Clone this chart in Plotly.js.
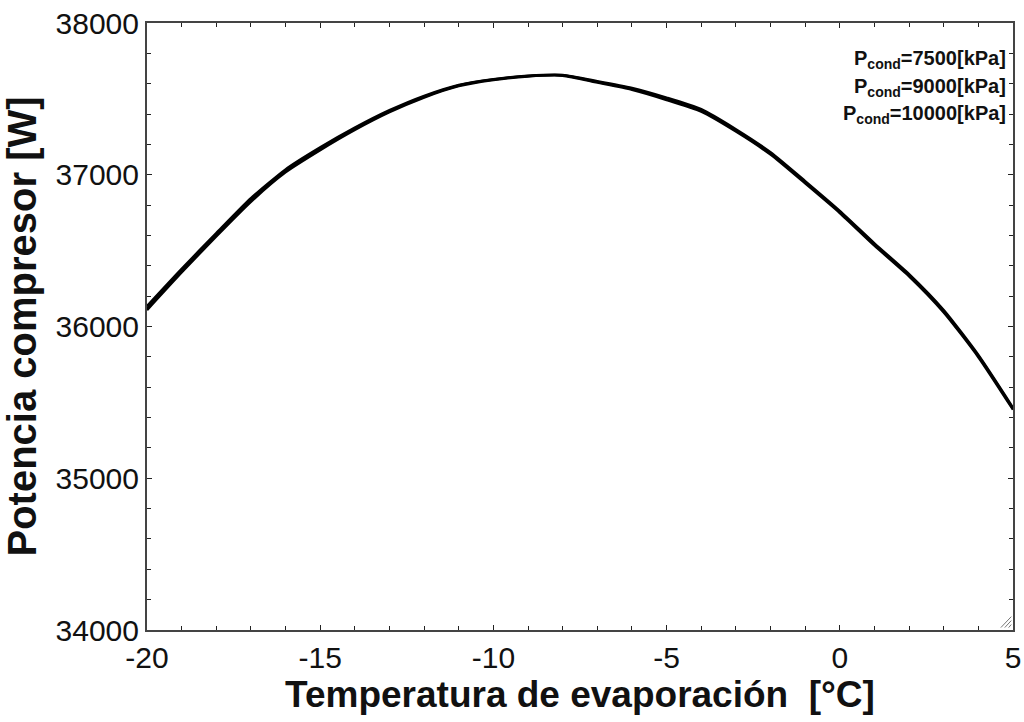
<!DOCTYPE html>
<html>
<head>
<meta charset="utf-8">
<script src="https://cdn.plot.ly/plotly-3.0.1.min.js"></script>
<style>
  html, body { margin: 0; padding: 0; background: #ffffff; }
  #chart { width: 1024px; height: 722px; }
</style>
</head>
<body>
<div id="chart"></div>
<script>
// Evaporation temperature [°C]
const tEvap = [-20, -19, -18, -17, -16, -15, -14, -13, -12, -11, -10, -9, -8,
               -7, -6, -5, -4, -3, -2, -1, 0, 1, 2, 3, 4, 5];

// Compressor power [W] for each condenser pressure
const power7500 = [36135, 36380, 36615, 36845, 37035, 37180, 37310, 37425, 37520, 37592, 37630, 37652, 37657,
                   37617, 37572, 37508, 37432, 37300, 37148, 36958, 36762, 36548, 36345, 36108, 35812, 35465];
const power9000 = [36120, 36368, 36605, 36832, 37025, 37170, 37302, 37418, 37514, 37588, 37627, 37650, 37655,
                   37612, 37566, 37500, 37424, 37292, 37140, 36950, 36755, 36540, 36338, 36100, 35805, 35458];
const power10000 = [36108, 36356, 36594, 36822, 37016, 37162, 37295, 37412, 37509, 37584, 37624, 37648, 37653,
                    37607, 37560, 37493, 37416, 37285, 37133, 36943, 36748, 36533, 36331, 36093, 35798, 35452];

const seriesNames = ['P<sub>cond</sub>=7500[kPa]', 'P<sub>cond</sub>=9000[kPa]', 'P<sub>cond</sub>=10000[kPa]'];
const seriesValues = [power7500, power9000, power10000];

const FONT = 'Arial, "Liberation Sans", sans-serif';

const traces = seriesValues.map((vals, i) => ({
  x: tEvap,
  y: vals,
  type: 'scatter',
  mode: 'lines',
  name: seriesNames[i],
  line: { color: '#000000', width: 2.5, shape: 'spline', smoothing: 0.6 },
  showlegend: false
}));

// Legend entries as plain text at the upper right corner of the plot
const legendNotes = seriesNames.map((name, i) => ({
  xref: 'paper', yref: 'paper',
  x: 0.994, y: 0.94 - i * 0.0455,
  xanchor: 'right', yanchor: 'middle',
  text: '<b>' + name + '</b>',
  showarrow: false,
  font: { family: FONT, size: 20, color: '#111111' }
}));

// Small resize grip drawn in the lower right corner of the frame
const grip = [0, 1, 2].map(k => ({
  type: 'line', xref: 'paper', yref: 'paper',
  x0: 0.986 + k * 0.0045, y0: 0.004,
  x1: 0.998, y1: 0.022 - k * 0.0065,
  line: { color: '#777777', width: 1 }
}));

const axisCommon = {
  showgrid: false,
  zeroline: false,
  showline: true,
  mirror: 'ticks',
  linecolor: '#444444',
  linewidth: 2,
  ticks: 'inside',
  ticklen: 5,
  tickwidth: 1,
  tickcolor: '#222222',
  tickfont: { family: FONT, size: 30, color: '#111111' },
  minor: { ticks: 'inside', ticklen: 4, tickwidth: 1, tickcolor: '#222222' }
};

const layout = {
  width: 1024,
  height: 722,
  paper_bgcolor: '#ffffff',
  plot_bgcolor: '#ffffff',
  margin: { l: 147, r: 11, t: 23, b: 92 },
  font: { family: FONT, color: '#111111' },
  xaxis: Object.assign({}, axisCommon, {
    range: [-20, 5],
    tickmode: 'array',
    tickvals: [-20, -15, -10, -5, 0, 5],
    ticktext: ['-20', '-15', '-10', '-5', '0', '5'],
    minor: Object.assign({}, axisCommon.minor, { dtick: 1, tick0: -20 }),
    title: {
      text: '<b>Temperatura de evaporación  [°C]</b>',
      font: { family: FONT, size: 37, color: '#111111' },
      standoff: 6
    }
  }),
  yaxis: Object.assign({}, axisCommon, {
    range: [34000, 38000],
    tickmode: 'array',
    tickvals: [34000, 35000, 36000, 37000, 38000],
    ticktext: ['34000', '35000', '36000', '37000', '38000'],
    minor: Object.assign({}, axisCommon.minor, { dtick: 200, tick0: 34000 }),
    title: {
      text: '<b>Potencia compresor [W]</b>',
      font: { family: FONT, size: 40, color: '#111111' },
      standoff: 8
    }
  }),
  annotations: legendNotes,
  shapes: grip,
  showlegend: false
};

Plotly.newPlot('chart', traces, layout, { displayModeBar: false, staticPlot: true });
</script>
</body>
</html>
